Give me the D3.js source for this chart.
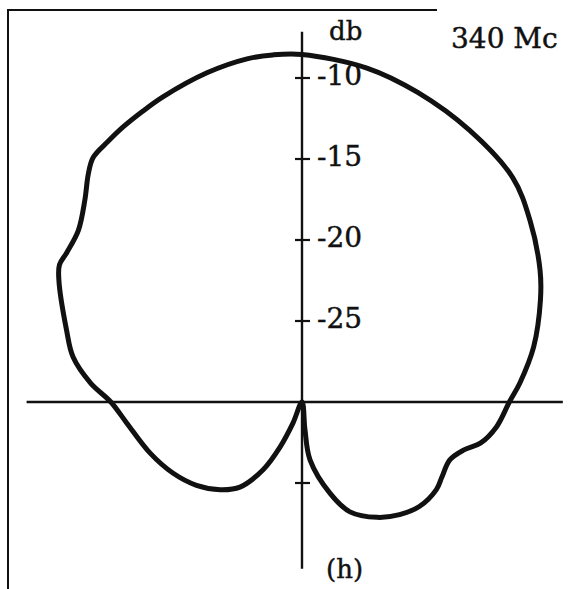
<!DOCTYPE html>
<html>
<head>
<meta charset="utf-8">
<script src="https://cdn.jsdelivr.net/npm/d3@7"></script>
<style>
  html, body { margin: 0; padding: 0; background: #fff; }
  svg { display: block; }
  text { font-family: "DejaVu Serif", "Liberation Serif", serif; fill: #111; stroke: #111; stroke-width: 0.45px; }
</style>
</head>
<body>
<svg id="chart" width="573" height="589"></svg>
<script>
// Horizontal-plane radiation pattern at 340 Mc, relative level in db.
// Bearing in degrees, clockwise from the upward axis.
const bearingDeg = [0, 11, 20.5, 31.7, 43.2, 51.4, 61, 66.9, 76.6, 85,
  90, 97.3, 103, 106.6, 111.4, 118.2, 123.1, 131.7, 139.1, 146.9,
  156.4, 162.9, 172.1, 173.9, 180, 203.2, 206, 209.8, 216.1, 223,
  231.7, 241.2, 251.5, 263.2, 270, 275.1, 281.1, 287, 296.7, 299.5,
  302.4, 307.5, 312.9, 316.9, 319.5, 323.3, 326.9, 331, 335.5, 343.9,
  350.9, 355.2];
const levelDb = [-8.55, -9.0, -9.6, -10.3, -11.0, -12.0, -13.2, -14.0, -15.3, -16.5,
  -17.2, -17.9, -18.7, -19.6, -20.2, -20.2, -20.1, -20.3, -20.8, -21.5,
  -22.6, -24.1, -26.4, -28.3, -30, -28.6, -26.9, -25.2, -23.5, -22.6,
  -21.7, -20.9, -20.1, -19.1, -18.2, -16.9, -15.6, -14.8, -13.2, -12.8,
  -12.8, -12.6, -11.7, -10.7, -10.15, -9.95, -9.75, -9.55, -9.3, -8.85,
  -8.55, -8.5];

// Scale ticks along the upper axis, plus one on the lower axis
const tickDb = [-25, -20, -15, -10];
const tickLabels = ["-25", "-20", "-15", "-10"];
const lowerTickDb = [-25];

const axisUnit = "db";
const freqLabel = "340 Mc";
const panelLabel = "(h)";

const svg = d3.select("#chart");
const cx = 302, cy = 402;

const r = d3.scaleLinear().domain([-30, -10]).range([0, 324]);

// fragment of the surrounding figure frame
svg.append("line").attr("x1", 7).attr("y1", 10).attr("x2", 437).attr("y2", 10)
  .attr("stroke", "#111").attr("stroke-width", 2.2);
svg.append("line").attr("x1", 8).attr("y1", 10).attr("x2", 8).attr("y2", 589)
  .attr("stroke", "#111").attr("stroke-width", 2);

const g = svg.append("g").attr("transform", `translate(${cx},${cy})`);

// axes through the origin
const axisStroke = 2.4;
g.append("line").attr("x1", -r(-13.0)).attr("x2", r(-13.9)).attr("y1", 0).attr("y2", 0)
  .attr("stroke", "#111").attr("stroke-width", axisStroke);
g.append("line").attr("x1", 0).attr("x2", 0).attr("y1", -r(-7.15)).attr("y2", r(-19.7))
  .attr("stroke", "#111").attr("stroke-width", axisStroke);

// tick marks
g.selectAll("line.tick").data(tickDb).join("line").attr("class", "tick")
  .attr("x1", -7).attr("x2", 8)
  .attr("y1", d => -r(d)).attr("y2", d => -r(d))
  .attr("stroke", "#111").attr("stroke-width", 2.2);
g.selectAll("line.ltick").data(lowerTickDb).join("line").attr("class", "ltick")
  .attr("x1", -7).attr("x2", 8)
  .attr("y1", d => r(d)).attr("y2", d => r(d))
  .attr("stroke", "#111").attr("stroke-width", 2.2);

g.selectAll("text.tl").data(tickDb).join("text").attr("class", "tl")
  .attr("x", 15).attr("y", d => -r(d) + 7)
  .attr("font-size", 28)
  .text((d, i) => tickLabels[i]);

// pattern curve
const pts = bearingDeg.map((a, i) => [a * Math.PI / 180, r(levelDb[i])]);
const radial = d3.lineRadial()
  .angle(d => d[0]).radius(d => d[1])
  .curve(d3.curveCatmullRomClosed.alpha(0.5));
g.append("path").attr("d", radial(pts))
  .attr("fill", "none").attr("stroke", "#111")
  .attr("stroke-width", 5).attr("stroke-linejoin", "round");

// labels
svg.append("text").attr("x", 329).attr("y", 40).attr("font-size", 26).text(axisUnit);
svg.append("text").attr("x", 451).attr("y", 48).attr("font-size", 28).text(freqLabel);
svg.append("text").attr("x", 326).attr("y", 578).attr("font-size", 26).text(panelLabel);
</script>
</body>
</html>
